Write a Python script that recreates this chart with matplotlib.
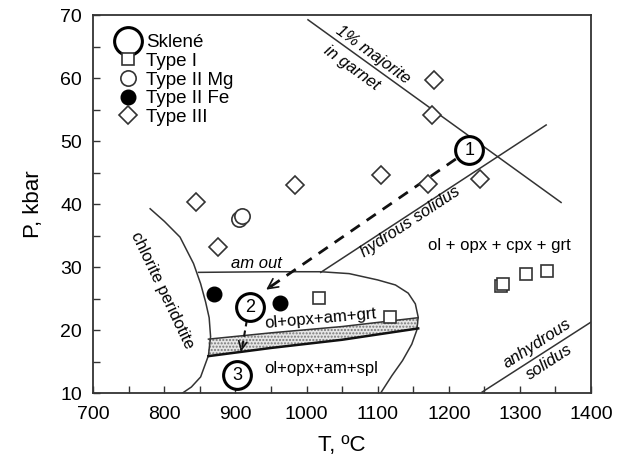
import numpy as np
import matplotlib.pyplot as plt
from matplotlib.ticker import MultipleLocator

plt.rcParams['font.family'] = ['Liberation Sans', 'DejaVu Sans']

# sample data (T in C, P in kbar)
type1_T = [1017, 1117, 1273, 1276, 1309, 1338]
type1_P = [25.1, 22.1, 27.1, 27.4, 28.9, 29.4]
type2mg_T = [905, 909]
type2mg_P = [37.7, 38.2]
type2fe_T = [870, 962]
type2fe_P = [25.7, 24.4]
type3_T = [844, 875, 984, 1104, 1171, 1176, 1179, 1244]
type3_P = [40.4, 33.2, 43.0, 44.6, 43.3, 54.2, 59.7, 44.0]
sklene_T = [1229, 921, 902]
sklene_P = [48.6, 23.7, 12.9]
sklene_lab = ['1', '2', '3']

# phase boundaries
maj_T = [1002, 1358]
maj_P = [69.3, 40.3]
hyd_T = [1020, 1337]
hyd_P = [29.2, 52.6]
anh_T = [1247, 1400]
anh_P = [10.2, 21.3]
amout_T = [848, 950, 1020, 1060, 1100, 1125, 1143, 1153, 1157, 1155, 1148, 1135, 1120, 1104]
amout_P = [29.2, 29.3, 29.3, 29.0, 28.0, 27.2, 25.9, 24.2, 22.1, 20.0, 17.8, 15.2, 12.8, 10.0]
chl_T = [780, 800, 822, 841, 851, 858, 863, 865, 862, 851, 838, 825]
chl_P = [39.3, 37.3, 34.8, 30.6, 27.4, 24.5, 22.0, 19.0, 16.0, 12.6, 11.0, 10.0]
band_T = [862, 950, 1050, 1157]
band_top = [18.6, 19.6, 20.6, 22.0]
band_bot = [15.9, 17.2, 18.5, 20.3]

fig = plt.figure(figsize=(6.26, 4.66), dpi=100)
ax = fig.add_axes([0.149, 0.156, 0.795, 0.811])

lc = '#333333'
ax.plot(maj_T, maj_P, color=lc, lw=1.1)
ax.plot(hyd_T, hyd_P, color=lc, lw=1.1)
ax.plot(anh_T, anh_P, color=lc, lw=1.1)
ax.plot(amout_T, amout_P, color=lc, lw=1.1)
ax.plot(chl_T, chl_P, color=lc, lw=1.1)
ax.fill_between(band_T, band_bot, band_top, facecolor='#e6e6e6', edgecolor='#777777',
                hatch='.....', lw=0)
ax.plot(band_T, band_top, color=lc, lw=1.1)
ax.plot(band_T, band_bot, color='#111111', lw=1.8)

# P-T path
ax.plot([1210, 945], [47.2, 26.6], color='#111111', lw=2, ls=(0, (4, 3)))
ax.annotate('', xy=(940, 26.2), xytext=(955, 27.4),
            arrowprops=dict(arrowstyle='->', color='#111111', lw=1.2, mutation_scale=18))
ax.plot([916, 909], [21.6, 17.0], color='#111111', lw=1.5, ls=(0, (3, 2)))
ax.annotate('', xy=(907, 16.2), xytext=(909, 17.4),
            arrowprops=dict(arrowstyle='->', color='#111111', lw=1.2, mutation_scale=15))

ms_kw = dict(ls='none', mec='#333333', mew=1.2)
ax.plot(type1_T, type1_P, marker='s', ms=9, mfc='white', label='Type I', **ms_kw)
ax.plot(type2mg_T, type2mg_P, marker='o', ms=11, mfc='white', label='Type II Mg', **ms_kw)
ax.plot(type2fe_T, type2fe_P, marker='o', ms=10.5, mfc='black', mec='black', ls='none',
        label='Type II Fe')
ax.plot(type3_T, type3_P, marker='D', ms=9, mfc='white', label='Type III', **ms_kw)
ax.plot(sklene_T, sklene_P, marker='o', ms=20, mfc='white', mec='black', mew=2.2,
        ls='none', label='Sklené', zorder=5)
for t, p, s in zip(sklene_T, sklene_P, sklene_lab):
    ax.text(t, p, s, ha='center', va='center', fontsize=13, zorder=6)

# field labels
ax.text(797, 26.4, 'chlorite peridotite', rotation=-64.5, ha='center', va='center', fontsize=12)
ax.text(930, 30.6, 'am out', style='italic', ha='center', va='center', fontsize=12)
ax.text(1020, 21.9, 'ol+opx+am+grt', rotation=5, ha='center', va='center', fontsize=12)
ax.text(1020, 14.0, 'ol+opx+am+spl', ha='center', va='center', fontsize=12)
ax.text(1271, 33.5, 'ol + opx + cpx + grt', ha='center', va='center', fontsize=12)
ax.text(1146, 37.2, 'hydrous solidus', style='italic', rotation=33.4, ha='center',
        va='center', fontsize=12)
ax.text(1094, 63.8, '1% majorite', style='italic', rotation=-36, ha='center',
        va='center', fontsize=12)
ax.text(1064, 61.7, 'in garnet', style='italic', rotation=-36, ha='center',
        va='center', fontsize=12)
ax.text(1325, 17.9, 'anhydrous', style='italic', rotation=33, ha='center',
        va='center', fontsize=12)
ax.text(1341, 15.0, 'solidus', style='italic', rotation=33, ha='center',
        va='center', fontsize=12)

ax.set_xlim(700, 1400)
ax.set_ylim(10, 70)
ax.xaxis.set_major_locator(MultipleLocator(100))
ax.xaxis.set_minor_locator(MultipleLocator(50))
ax.yaxis.set_major_locator(MultipleLocator(10))
ax.yaxis.set_minor_locator(MultipleLocator(5))
ax.tick_params(which='both', direction='in', length=5, width=1, colors='#333333',
               labelsize=14, labelcolor='black')
ax.tick_params(axis='x', which='both', pad=9)
ax.tick_params(axis='y', which='both', pad=8)
for sp in ax.spines.values():
    sp.set_linewidth(1.3)
    sp.set_color('#333333')
ax.set_xlabel('T, ºC', fontsize=16, labelpad=9)
ax.set_ylabel('P, kbar', fontsize=16, labelpad=12)

h, l = ax.get_legend_handles_labels()
order = [4, 0, 1, 2, 3]
ax.legend([h[i] for i in order], [l[i] for i in order], loc='upper left',
          bbox_to_anchor=(0.015, 0.985), frameon=False, fontsize=13.5,
          labelspacing=0.08, handletextpad=0.2, handlelength=1.5, borderpad=0.2)

fig.savefig('out.png', dpi=100)
